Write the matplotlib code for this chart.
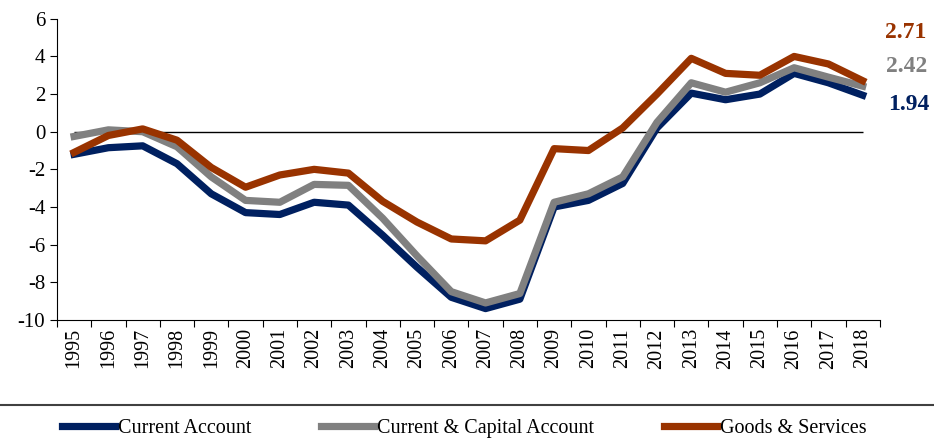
import matplotlib
matplotlib.use('Agg')
import matplotlib.pyplot as plt
from matplotlib.lines import Line2D

plt.rcParams['font.family'] = ['Liberation Serif', 'DejaVu Serif']
plt.rcParams['axes.unicode_minus'] = False

# Data
years = [str(y) for y in range(1995, 2019)]
current_account = [-1.2, -0.85, -0.75, -1.7, -3.3, -4.3, -4.4, -3.75, -3.9, -5.5,
                   -7.2, -8.8, -9.4, -8.9, -4.0, -3.65, -2.75, 0.2, 2.05, 1.7,
                   2.0, 3.1, 2.6, 1.94]
current_capital = [-0.25, 0.1, 0.0, -0.8, -2.4, -3.65, -3.75, -2.8, -2.85, -4.6,
                   -6.6, -8.5, -9.1, -8.6, -3.75, -3.3, -2.4, 0.5, 2.6, 2.1,
                   2.6, 3.4, 2.9, 2.42]
goods_services = [-1.1, -0.2, 0.15, -0.45, -1.9, -2.95, -2.3, -2.0, -2.2, -3.7,
                  -4.8, -5.7, -5.8, -4.7, -0.9, -1.0, 0.2, 2.0, 3.9, 3.1,
                  3.0, 4.0, 3.6, 2.71]

navy = '#002060'
grey = '#808080'
rust = '#993300'

fig = plt.figure(figsize=(9.34, 4.48), dpi=100)
ax = fig.add_axes([0.061, 0.286, 0.881, 0.672])

x = list(range(len(years)))
ax.hlines(0, 0, len(years) - 1, color='black', lw=1)
ax.plot(x, current_account, color=navy, lw=5.2, label='Current Account')
ax.plot(x, current_capital, color=grey, lw=5.2, label='Current & Capital Account')
ax.plot(x, goods_services, color=rust, lw=5.2, label='Goods & Services')

ax.set_xlim(-0.5, len(years) - 0.5)
ax.set_ylim(-10, 6)
ax.set_yticks(range(-10, 7, 2))
ax.tick_params(axis='y', labelsize=15, direction='out', length=5)

# category axis: ticks on boundaries, labels at centres
ax.set_xticks([i - 0.5 for i in range(len(years) + 1)])
ax.set_xticklabels([])
ax.set_xticks(x, minor=True)
ax.set_xticklabels(years, minor=True, rotation=90, fontsize=14.5)
ax.tick_params(axis='x', which='major', direction='out', length=5)
ax.tick_params(axis='x', which='minor', length=0, pad=6)

for s in ['top', 'right']:
    ax.spines[s].set_visible(False)

# end labels
ax.text(1.032, 0.955, '2.71', transform=ax.transAxes, color=rust, fontsize=17,
        fontweight='bold', ha='center', va='center')
ax.text(1.032, 0.84, '2.42', transform=ax.transAxes, color=grey, fontsize=17,
        fontweight='bold', ha='center', va='center')
ax.text(1.035, 0.715, '1.94', transform=ax.transAxes, color=navy, fontsize=17,
        fontweight='bold', ha='center', va='center')

# separator line above legend
fig.add_artist(Line2D([0, 1], [1 - 405 / 448, 1 - 405 / 448], color='#404040', lw=1.5,
                      transform=fig.transFigure))

fig.legend(loc='center', bbox_to_anchor=(0.497, 1 - 428 / 448), ncol=3, frameon=False,
           fontsize=14.5, handlelength=2.6, handletextpad=0.15, columnspacing=3.5)

plt.savefig('out.png', dpi=100)
